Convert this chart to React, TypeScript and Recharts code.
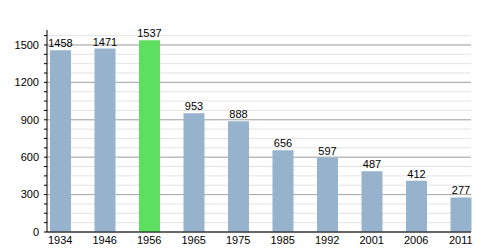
import { BarChart, Bar, XAxis, YAxis, CartesianGrid, LabelList, Cell } from "recharts";

const years = ["1934", "1946", "1956", "1965", "1975", "1985", "1992", "2001", "2006", "2011"];
const population = [1458, 1471, 1537, 953, 888, 656, 597, 487, 412, 277];
const highlightYear = "1956";

const minorTicks = [0, 75, 150, 225, 300, 375, 450, 525, 600, 675, 750, 825, 900, 975, 1050, 1125, 1200, 1275, 1350, 1425, 1500, 1575];
const majorTicks = [0, 300, 600, 900, 1200, 1500];

const data = years.map((year, i) => ({ year, value: population[i] }));

const font = { fontFamily: "Liberation Sans, Arial, sans-serif", fontSize: 11, fill: "#000" };

export default function App() {
  return (
    <div style={{ position: "absolute", left: 0, top: 0, width: 500, height: 250, background: "#fff" }}>
      <BarChart
        width={500}
        height={250}
        data={data}
        margin={{ top: 30, right: 29, bottom: 0, left: 0 }}
      >
        <CartesianGrid vertical={false} horizontalValues={minorTicks} stroke="#e3e3e3" />
        <CartesianGrid vertical={false} horizontalValues={majorTicks} stroke="#a8a8a8" />
        <XAxis
          dataKey="year"
          height={18}
          padding={{ left: -9, right: -12 }}
          tickSize={0}
          tickMargin={4}
          axisLine={{ stroke: "#000" }}
          tick={font}
        />
        <YAxis
          width={47}
          domain={[0, 1620]}
          ticks={minorTicks}
          interval={0}
          tickFormatter={(v: number) => (v % 300 === 0 ? String(v) : "")}
          tickSize={3}
          tickMargin={5}
          axisLine={{ stroke: "#000" }}
          tickLine={{ stroke: "#000" }}
          tick={font}
        />
        <Bar dataKey="value" barSize={21} fill="#97b2cd" isAnimationActive={false}>
          {data.map((d) => (
            <Cell key={d.year} fill={d.year === highlightYear ? "#5fdf5f" : "#97b2cd"} />
          ))}
          <LabelList dataKey="value" position="top" offset={3} style={font} />
        </Bar>
      </BarChart>
    </div>
  );
}
